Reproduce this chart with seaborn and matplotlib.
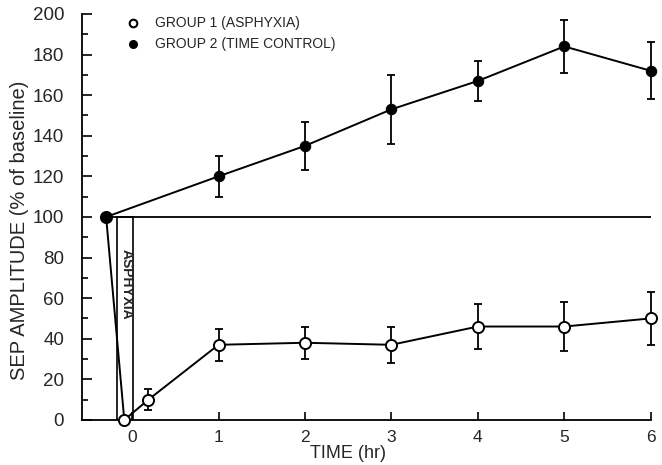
import numpy as np
import pandas as pd
import matplotlib
matplotlib.use("Agg")
import matplotlib.pyplot as plt
import seaborn as sns
from matplotlib.ticker import MultipleLocator

# Data
g1_time = [-0.30, -0.09, 0.19, 1, 2, 3, 4, 5, 6]
g1_amp = [100, 0, 10, 37, 38, 37, 46, 46, 50]
g1_err = [0, 0, 5, 8, 8, 9, 11, 12, 13]

g2_time = [-0.30, 1, 2, 3, 4, 5, 6]
g2_amp = [100, 120, 135, 153, 167, 184, 172]
g2_err = [0, 10, 12, 17, 10, 13, 14]

labels = ["GROUP 1 (ASPHYXIA)", "GROUP 2 (TIME CONTROL)"]

sns.set_style("ticks")
plt.rcParams['font.family'] = ['Liberation Sans', 'DejaVu Sans']

fig, ax = plt.subplots(figsize=(6.62, 4.65), dpi=100)
fig.subplots_adjust(left=0.124, right=0.983, top=0.970, bottom=0.097)

df1 = pd.DataFrame({"t": g1_time, "v": g1_amp})
df2 = pd.DataFrame({"t": g2_time, "v": g2_amp})

# baseline line at 100 and asphyxia box
ax.plot([-0.30, 6.0], [100, 100], color="black", lw=1.3, zorder=1)
ax.plot([-0.17, -0.17, 0.01, 0.01], [0, 100, 100, 0], color="black", lw=1.2, zorder=1)
ax.text(-0.06, 67, "ASPHYXIA", rotation=270, ha="center", va="center",
        fontsize=10, fontweight="bold")

sns.lineplot(data=df1, x="t", y="v", ax=ax, color="black", lw=1.4,
             marker="o", markersize=8, markerfacecolor="white",
             markeredgecolor="black", markeredgewidth=1.4, zorder=4, clip_on=False)
sns.lineplot(data=df2, x="t", y="v", ax=ax, color="black", lw=1.4,
             marker="o", markersize=7.5, markerfacecolor="black",
             markeredgecolor="black", zorder=5, clip_on=False)

ax.errorbar(g2_time, g2_amp, yerr=g2_err, fmt="none", ecolor="black",
            elinewidth=1.3, capsize=3, capthick=1.3, zorder=2, clip_on=False)
ax.errorbar(g1_time, g1_amp, yerr=g1_err, fmt="none", ecolor="black",
            elinewidth=1.3, capsize=3, capthick=1.3, zorder=2, clip_on=False)

# legend
ax.plot([0.01], [195.5], marker="o", markersize=5.5, markerfacecolor="white",
        markeredgecolor="black", markeredgewidth=1.5, linestyle="none",
        clip_on=False)
ax.plot([0.01], [185], marker="o", markersize=5.5, markerfacecolor="black",
        markeredgecolor="black", linestyle="none", clip_on=False)
ax.text(0.27, 195.5, labels[0], fontsize=10, va="center", ha="left")
ax.text(0.27, 185, labels[1], fontsize=10, va="center", ha="left")

ax.set_xlim(-0.578, 6.0)
ax.set_ylim(0, 200)
ax.set_xticks([0, 1, 2, 3, 4, 5, 6])
ax.set_yticks(np.arange(0, 201, 20))
ax.yaxis.set_minor_locator(MultipleLocator(10))
ax.tick_params(axis="both", which="both", direction="in", labelsize=13.5,
               width=1.2, color="black")
ax.tick_params(axis="y", which="major", length=7, pad=13)
ax.tick_params(axis="y", which="minor", length=4)
ax.tick_params(axis="x", which="major", length=6, pad=7.5, labelsize=12.5)

ax.set_xlabel("TIME (hr)", fontsize=13)
ax.xaxis.set_label_coords(0.467, -0.062)
ax.set_ylabel("SEP AMPLITUDE (% of baseline)", fontsize=14.5)
ax.yaxis.set_label_coords(-0.094, 0.468)

for s in ["top", "right"]:
    ax.spines[s].set_visible(False)
for s in ["left", "bottom"]:
    ax.spines[s].set_linewidth(1.3)
    ax.spines[s].set_color("black")

fig.savefig("out.png", dpi=100)
